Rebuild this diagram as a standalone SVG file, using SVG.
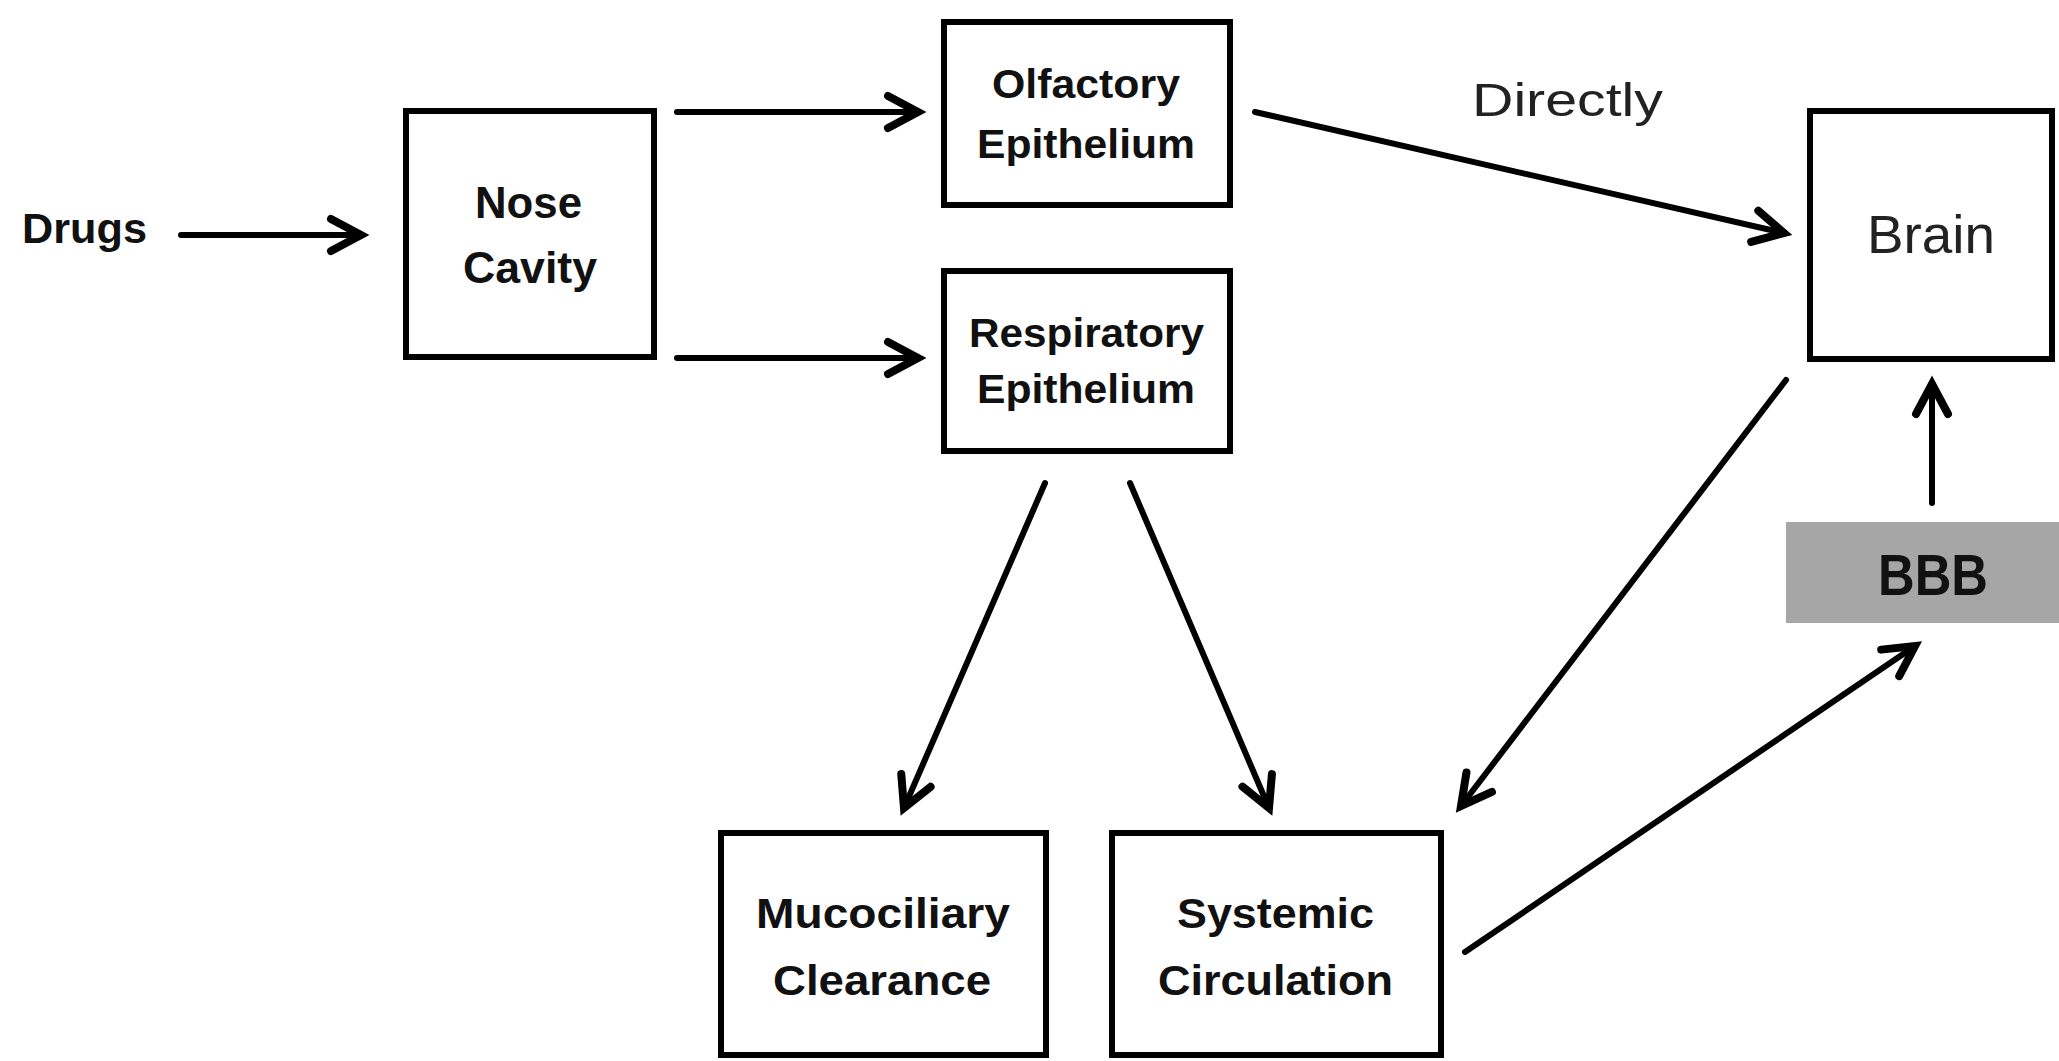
<svg xmlns="http://www.w3.org/2000/svg" width="2059" height="1061" viewBox="0 0 2059 1061">
<style>
.box{fill:#fff;stroke:#000;stroke-width:6}
.b{font-family:"Liberation Sans",Arial,sans-serif;font-weight:bold;fill:#111}
.r{font-family:"Liberation Sans",Arial,sans-serif;font-weight:normal;fill:#222}
.c{stroke:#000;stroke-width:6;fill:none;stroke-linecap:round}
</style>
<defs>
<marker id="ah" markerUnits="userSpaceOnUse" viewBox="-40 -25 50 50" refX="0" refY="0" markerWidth="50" markerHeight="50" orient="auto">
<path d="M-30,-16 L0,0 L-30,16" fill="none" stroke="#000" stroke-width="8" stroke-linejoin="miter" stroke-linecap="round"/>
</marker>
</defs>
<rect width="2059" height="1061" fill="#fff"/>
<g id="drugs"><text class="b" x="22" y="243" font-size="42" textLength="125" lengthAdjust="spacingAndGlyphs">Drugs</text></g>
<g id="nose-cavity">
<rect class="box" x="406" y="111" width="248" height="246"/>
<text class="b" x="475" y="218" font-size="44" textLength="107" lengthAdjust="spacingAndGlyphs">Nose</text>
<text class="b" x="463" y="283" font-size="44" textLength="134" lengthAdjust="spacingAndGlyphs">Cavity</text>
</g>
<g id="olfactory">
<rect class="box" x="944" y="22" width="286" height="183"/>
<text class="b" x="992" y="98" font-size="40" textLength="188" lengthAdjust="spacingAndGlyphs">Olfactory</text>
<text class="b" x="977" y="158" font-size="40" textLength="218" lengthAdjust="spacingAndGlyphs">Epithelium</text>
</g>
<g id="respiratory">
<rect class="box" x="944" y="271" width="286" height="180"/>
<text class="b" x="969" y="347" font-size="40" textLength="235" lengthAdjust="spacingAndGlyphs">Respiratory</text>
<text class="b" x="977" y="403" font-size="40" textLength="218" lengthAdjust="spacingAndGlyphs">Epithelium</text>
</g>
<g id="directly-label"><text class="r" x="1472" y="116" font-size="46" textLength="191" lengthAdjust="spacingAndGlyphs">Directly</text></g>
<g id="brain">
<rect class="box" x="1810" y="111" width="242" height="248"/>
<text class="r" x="1867" y="253" font-size="53" textLength="128" lengthAdjust="spacingAndGlyphs">Brain</text>
</g>
<g id="bbb">
<rect x="1786" y="522" width="273" height="101" fill="#a6a6a6"/>
<text class="b" x="1878" y="595" font-size="57" textLength="110" lengthAdjust="spacingAndGlyphs">BBB</text>
</g>
<g id="mucociliary">
<rect class="box" x="721" y="833" width="325" height="222"/>
<text class="b" x="756" y="928" font-size="42" textLength="254" lengthAdjust="spacingAndGlyphs">Mucociliary</text>
<text class="b" x="773" y="995" font-size="42" textLength="218" lengthAdjust="spacingAndGlyphs">Clearance</text>
</g>
<g id="systemic">
<rect class="box" x="1112" y="833" width="329" height="222"/>
<text class="b" x="1177" y="928" font-size="42" textLength="197" lengthAdjust="spacingAndGlyphs">Systemic</text>
<text class="b" x="1158" y="995" font-size="42" textLength="235" lengthAdjust="spacingAndGlyphs">Circulation</text>
</g>
<g id="connectors">
<line class="c" x1="181" y1="235" x2="361" y2="235" marker-end="url(#ah)"/>
<line class="c" x1="677" y1="112" x2="918" y2="112" marker-end="url(#ah)"/>
<line class="c" x1="677" y1="358" x2="918" y2="358" marker-end="url(#ah)"/>
<line class="c" x1="1255" y1="112" x2="1784" y2="233" marker-end="url(#ah)"/>
<line class="c" x1="1045" y1="483" x2="904" y2="808" marker-end="url(#ah)"/>
<line class="c" x1="1130" y1="483" x2="1269" y2="808" marker-end="url(#ah)"/>
<line class="c" x1="1786" y1="380" x2="1461" y2="806" marker-end="url(#ah)"/>
<line class="c" x1="1932" y1="503" x2="1932" y2="384" marker-end="url(#ah)"/>
<line class="c" x1="1465" y1="952" x2="1915" y2="646" marker-end="url(#ah)"/>
</g>
</svg>
